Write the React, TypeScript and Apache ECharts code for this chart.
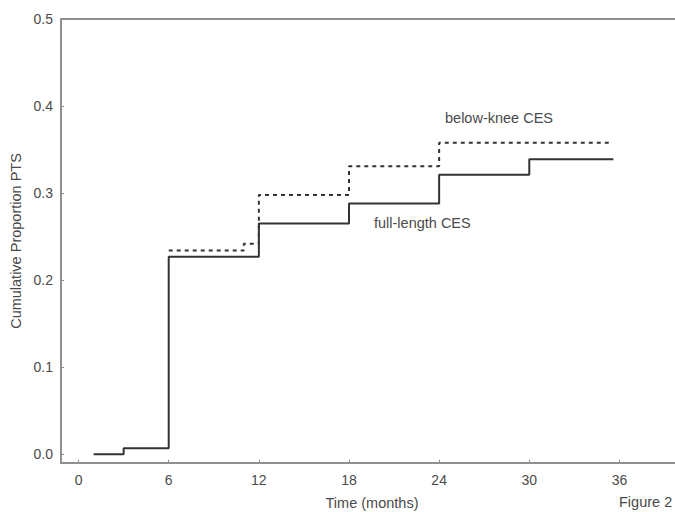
import React, { useEffect, useRef } from "react";
import * as echarts from "echarts";

const fullTimes = [1, 3, 6, 12, 18, 24, 30, 35.6];
const fullValues = [0, 0.007, 0.227, 0.265, 0.288, 0.321, 0.339, 0.339];
const belowTimes = [6, 11, 12, 18, 24, 35.4];
const belowValues = [0.234, 0.242, 0.298, 0.331, 0.358, 0.358];
const xTicks = [0, 6, 12, 18, 24, 30, 36];
const yTicks = [0, 0.1, 0.2, 0.3, 0.4, 0.5];

const FONT = "'Liberation Sans', Arial, sans-serif";
const TEXT = "#4a4a4a";
const AXIS = "#8f8f8f";

export default function App() {
  const ref = useRef<HTMLDivElement>(null);
  useEffect(() => {
    if (!ref.current) return;
    const chart = echarts.init(ref.current, null, { renderer: "svg" });
    const axisLine = { show: true, onZero: false, lineStyle: { color: AXIS, width: 2 } };
    chart.setOption({
      animation: false,
      backgroundColor: "#ffffff",
      grid: { left: 61, top: 19, right: 0, bottom: 49.3, containLabel: false },
      xAxis: {
        type: "value",
        min: -1.17,
        max: 39.7,
        axisLine,
        splitLine: { show: false },
        axisTick: { show: true, inside: true, length: 3, customValues: xTicks, lineStyle: { color: AXIS } },
        axisLabel: {
          customValues: xTicks,
          margin: 10,
          color: TEXT,
          fontSize: 14,
          fontFamily: FONT,
          formatter: (v: number) => String(v),
        },
      },
      yAxis: {
        type: "value",
        min: -0.0096,
        max: 0.5,
        axisLine,
        splitLine: { show: false },
        axisTick: { show: true, inside: true, length: 3, customValues: yTicks, lineStyle: { color: AXIS } },
        axisLabel: {
          customValues: yTicks,
          margin: 8,
          color: TEXT,
          fontSize: 14,
          fontFamily: FONT,
          formatter: (v: number) => v.toFixed(1),
        },
      },
      graphic: [
        {
          type: "line",
          shape: { x1: 61, y1: 19, x2: 675, y2: 19 },
          style: { stroke: AXIS, lineWidth: 2 },
          silent: true,
        },
        {
          type: "text",
          x: 445,
          y: 118,
          style: { text: "below-knee CES", fill: TEXT, font: `14.5px ${FONT}`, textVerticalAlign: "middle" },
        },
        {
          type: "text",
          x: 374,
          y: 223,
          style: { text: "full-length CES", fill: TEXT, font: `14.5px ${FONT}`, textVerticalAlign: "middle" },
        },
        {
          type: "text",
          x: 372,
          y: 503,
          style: { text: "Time (months)", fill: TEXT, font: `14.5px ${FONT}`, textAlign: "center", textVerticalAlign: "middle" },
        },
        {
          type: "text",
          x: 619,
          y: 502,
          style: { text: "Figure 2", fill: TEXT, font: `14.5px ${FONT}`, textVerticalAlign: "middle" },
        },
        {
          type: "text",
          x: 16,
          y: 241,
          rotation: Math.PI / 2,
          style: { text: "Cumulative Proportion PTS", fill: TEXT, font: `14.5px ${FONT}`, textAlign: "center", textVerticalAlign: "middle" },
        },
      ],
      series: [
        {
          type: "line",
          step: "end",
          data: belowTimes.map((t, i) => [t, belowValues[i]]),
          showSymbol: false,
          lineStyle: { color: "#333333", width: 2, type: [4, 4] },
          z: 2,
        },
        {
          type: "line",
          step: "end",
          data: fullTimes.map((t, i) => [t, fullValues[i]]),
          showSymbol: false,
          lineStyle: { color: "#333333", width: 2 },
          z: 3,
        },
      ],
    });
    return () => chart.dispose();
  }, []);
  return <div ref={ref} style={{ position: "fixed", left: 0, top: 0, width: 675, height: 512 }} />;
}
